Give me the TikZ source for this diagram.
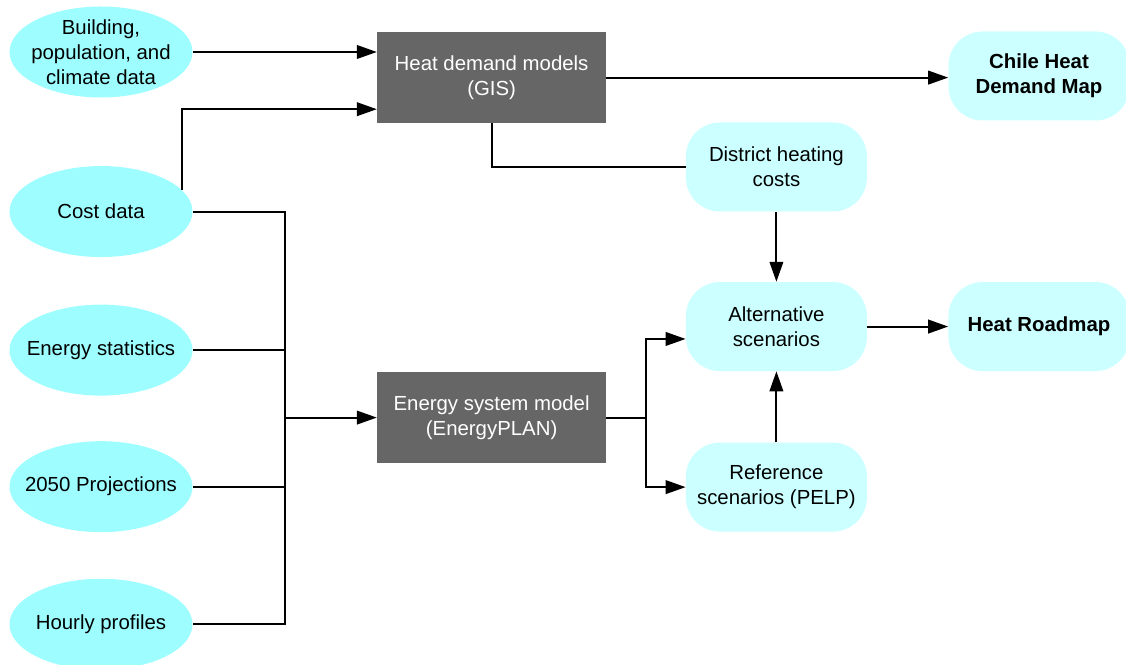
\documentclass[tikz,border=0pt]{standalone}
\usepackage{fontspec}
\setmainfont{Liberation Sans}
\usetikzlibrary{arrows.meta,positioning,shapes.geometric,calc}
\definecolor{dataCyan}{HTML}{9EFEFF}
\definecolor{stageCyan}{HTML}{CCFFFF}
\definecolor{modelGray}{HTML}{666666}

\begin{document}
\begin{tikzpicture}[
  font=\fontsize{14.5pt}{17.7pt}\selectfont,
  datum/.style={ellipse, fill=dataCyan, minimum width=4.575cm, minimum height=2.275cm, inner sep=0pt, label={[align=center]center:{#1}}},
  model/.style={rectangle, fill=modelGray, text=white, minimum width=5.725cm, minimum height=2.275cm, align=center},
  stage/.style={rectangle, rounded corners=0.85cm, fill=stageCyan, minimum width=4.525cm, minimum height=2.225cm, align=center},
  flow/.style={-{Triangle[length=5mm, width=3.4mm]}, line width=1.4pt},
  link/.style={line width=1.4pt}
]
\useasboundingbox (0,0) rectangle (28.15,16.6);
% input data
\node[datum={Building,\\population, and\\climate data}] (build) at (2.525,15.3) {};
\node[datum={Cost data}, below=1.7cm of build] (cost) {};
\node[datum={Energy statistics}, below=1.175cm of cost] (stats) {};
\node[datum={2050 Projections}, below=1.125cm of stats] (proj) {};
\node[datum={Hourly profiles}, below=1.15cm of proj] (hourly) {};
% models
\node[model] (heat) at (12.29,14.66) {Heat demand models\\(GIS)};
\node[model] (energy) at (12.29,6.16) {Energy system model\\(EnergyPLAN)};
% results
\node[stage] (district) at (19.41,12.425) {District heating\\costs};
\node[stage, below=1.75cm of district] (alt) {Alternative\\scenarios};
\node[stage, below=1.775cm of alt] (ref) {Reference\\scenarios (PELP)};
\node[stage, right=2.025cm of alt] (roadmap) {\textbf{Heat Roadmap}};
\node[stage] (chile) at (25.975,14.7) {\textbf{Chile Heat}\\\textbf{Demand Map}};
\coordinate (bus) at ($(cost.east)!0.5!(energy.west)$);
\coordinate (split) at ($(energy.east)!0.5!(alt.west)$);
\draw[flow] (build.east) -- (build.east -| heat.west);
\draw[flow] (cost.15) |- ([yshift=-0.79cm]heat.west);
\draw[link] (cost.east) -| (bus |- hourly.east) -- (hourly.east);
\foreach \src in {stats,proj} \draw[link] (\src.east) -- (\src.east -| bus);
\draw[flow] (bus |- energy.west) -- (energy.west);
\draw[flow] (heat.east) -- (heat.east -| chile.west);
\draw[link] (heat.south) |- (district.west);
\draw[flow] (district.south) -- (alt.north);
\draw[flow] (alt.east) -- (roadmap.west);
\draw[flow] (ref.north) -- (alt.south);
\draw[link] (energy.east) -- (split |- energy.east);
\draw[flow] (split |- energy.east) |- ([yshift=-0.31cm]alt.west);
\draw[flow] (split |- energy.east) |- (ref.west);
\end{tikzpicture}
\end{document}
